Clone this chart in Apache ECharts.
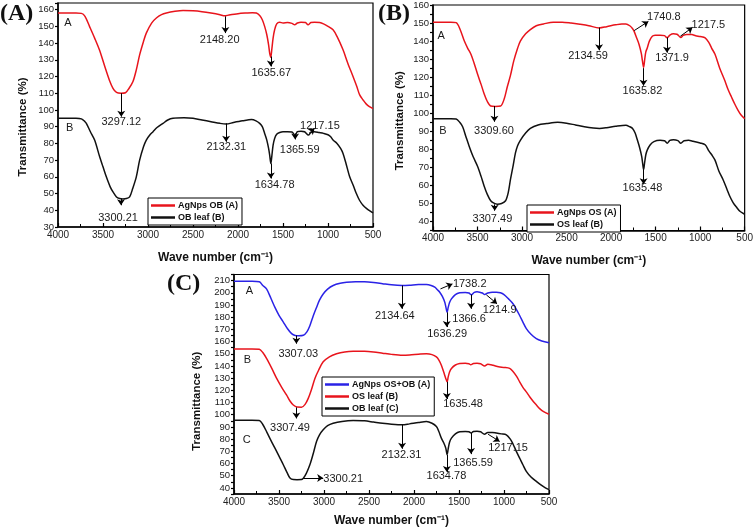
<!DOCTYPE html>
<html><head><meta charset="utf-8">
<script src="https://cdn.jsdelivr.net/npm/echarts@6/dist/echarts.min.js"></script>
<style>html,body{margin:0;padding:0;background:#fff}#c{width:756px;height:528px}</style>
</head><body><div id="c"></div>
<script>
// ---------------- DATA ----------------
// Panel A : AgNps OB (red) and OB leaf (black)
const aAgWn = [4000,3800,3740,3700,3650,3593,3540,3480,3430,3389,3350,3300,3250,3210,3167,3130,3093,3050,3019,2960,2907,2850,2796,2700,2611,2500,2400,2300,2200,2148,2100,2000,1907,1840,1796,1759,1730,1704,1680,1660,1648,1636,1625,1610,1593,1570,1537,1500,1450,1400,1370,1340,1300,1250,1222,1190,1150,1093,1050,1000,944,900,833,780,722,680,648,610,574,540,500];
const aAgT  = [158,158,157.8,156,150,143,136,126,118,113,110.5,110,110.3,113,117,124,133,141,146,152,155,157,158,159,159.5,159.3,158.8,158,157,156.3,156.8,157.6,158,158.2,158,156.5,154,150,145,139,134,131.5,136,143,148,151.5,152.5,152,152.3,151.8,151,152,152.5,152.3,151,152.3,152.5,152.3,151.5,150,148,144,136,128,120,114,109,106,103.5,102,100.8];
const aObWn = [4000,3800,3740,3700,3685,3640,3593,3537,3500,3463,3420,3389,3350,3315,3280,3240,3204,3170,3130,3093,3050,3019,2980,2944,2900,2833,2780,2722,2600,2500,2400,2300,2200,2132,2050,1950,1850,1800,1759,1730,1704,1680,1660,1648,1635,1625,1610,1593,1570,1537,1500,1450,1400,1365,1340,1300,1260,1217,1190,1150,1100,1050,1000,970,944,900,860,833,800,759,720,685,650,611,570,530,500];
const aObT  = [95,95,94.7,93,92,87,82,72,66,60,54,51,48,47,46.8,47,48,53,60,70,78,82,85,87,89.5,92,94,95,95.3,95,94,93,92,91.6,92.5,93.5,94.3,93.5,92,90,86,82,77,73,68,72,79,83,85.5,86.5,87,87,86.8,84.8,87,87.3,87,85,86.5,87,86.5,86,85.2,84,82,80,77,74,68,60,55,50,46,43,41,39.5,38.5];

// Panel B : AgNps OS (red) and OS leaf (black)
const bAgWn = [4000,3800,3740,3700,3648,3610,3574,3540,3500,3460,3426,3390,3352,3300,3241,3200,3167,3130,3093,3050,3019,2960,2907,2840,2759,2650,2550,2450,2350,2250,2134,2050,1950,1880,1833,1790,1760,1741,1715,1685,1660,1648,1635,1622,1610,1593,1570,1537,1500,1450,1400,1372,1340,1300,1260,1217,1190,1150,1093,1050,1000,944,900,870,833,780,722,685,648,610,574,540,500];
const bAgT  = [150.5,150.5,150.2,147,140,136,132.7,128,121.7,116,110.8,106.5,104,103.8,104,108,114.4,121,129,136,140,144,146.4,148.5,149.5,150.5,150.5,150,149.3,148.5,147.3,148,149,149.5,149.5,148.5,147,145.4,142,138,133,129,125.4,130,134,136.3,140,142.7,143.2,143.3,143,141.8,143.3,144,143.8,142,143.2,143.7,143.6,143,142.5,141.8,139,136,132.7,125,118,113,109,105,101.6,99,97];
const bOsWn = [4000,3800,3740,3700,3667,3630,3593,3550,3500,3460,3426,3390,3352,3310,3278,3230,3185,3155,3130,3100,3074,3050,3019,2960,2907,2820,2722,2600,2500,2400,2300,2200,2130,2050,1950,1833,1790,1759,1730,1704,1680,1656,1645,1635,1625,1610,1593,1560,1519,1450,1400,1370,1340,1300,1250,1217,1180,1130,1080,1000,944,900,870,833,790,741,700,667,630,593,550,500];
const bOsT  = [97,97,96.8,95,92.5,87,81.6,76,70.6,65,59.7,55,51.5,50,49.6,50,51.5,56,63.3,71,78,82,85,89,91.6,93.5,94.3,95,94.5,93.5,92.5,91.8,91.6,92,92.8,93.4,92.5,91.6,89,85,81,76,72,68.8,72,77,79.7,82.5,84.3,85,84.8,83.4,85,85.3,84.8,83.4,84.8,85,84.5,83.5,82.5,79,77,74,68,63,58,54,50.5,48,45.5,44];

// Panel C : AgNps OS+OB (blue), OS leaf (red), OB leaf (black)
const cMixWn = [4000,3800,3719,3680,3637,3590,3545,3500,3452,3405,3360,3320,3280,3230,3190,3157,3120,3083,3050,3009,2960,2898,2820,2749,2650,2550,2450,2350,2250,2134,2050,1950,1862,1810,1769,1740,1714,1685,1658,1645,1632,1620,1605,1584,1540,1492,1430,1390,1362,1330,1300,1270,1240,1215,1180,1130,1085,1040,1000,950,900,860,826,790,752,700,641,580,500];
const cMixT  = [209.5,209.5,209,206,203,195.5,188,181.5,176,170.5,166.5,165,164.8,165.2,168,173,181,188,194,199,203,206,207.8,208.6,209,209,208.5,207.5,206.5,206,206.2,206.7,206.7,206,204.6,202.5,200.5,197,192.3,188,184,188,192,195,198.5,200,200.3,199.8,198.3,200.3,200.8,200.5,199.8,198.6,199.8,200.5,200.5,200,198.5,195,191,186,181.4,176,170.6,166,162.4,160.5,159];
const cOsWn = [4000,3800,3719,3680,3637,3580,3526,3470,3415,3380,3341,3300,3250,3210,3175,3140,3101,3060,3009,2940,2861,2770,2676,2550,2450,2350,2250,2130,2050,1950,1862,1800,1751,1725,1696,1670,1647,1632,1620,1605,1584,1540,1492,1430,1390,1370,1340,1300,1260,1215,1180,1121,1060,1000,937,900,860,826,790,750,715,670,640,604,560,500];
const cOsT  = [154,154,153.7,151,146,138,129.8,122.5,116,111.5,108,106.3,106.2,108.5,113.4,120.5,129.8,136.5,143.4,147.5,150,151.5,152,152,151.5,150.5,149.5,148.8,149,149.6,150,149.3,147.4,145,140.6,135,129.8,127,131,135,138,140.8,142,142.3,141.8,141,142,142.2,141.8,140,141.5,140.6,139.3,138.8,138,135.5,131.5,127,122.5,118.5,114.8,110.5,108,105,102.5,100.4];
const cObWn = [4000,3800,3719,3680,3637,3590,3545,3500,3452,3410,3378,3340,3300,3250,3210,3157,3120,3083,3050,3009,2960,2898,2800,2676,2550,2450,2350,2250,2130,2050,1950,1862,1800,1751,1725,1696,1670,1647,1632,1620,1605,1584,1540,1492,1430,1390,1365,1340,1300,1260,1217,1180,1130,1085,1030,974,930,900,863,820,790,752,700,641,590,540,500];
const cObT  = [95.5,95.5,95.3,92,86,79,72.6,66,59,52.5,48.1,46.8,46.7,46.8,50,59,68,78,83.5,87.6,91,93,94.5,95.2,95,94,93,92.2,91.7,92.5,93.6,94.4,93,90.3,86.5,80.8,77,72.6,67.2,72,77.5,80.8,84.3,86,86.3,86,85,86.3,86.5,86,84,85.5,85.5,85,84.3,83.5,80,76,70,63.5,59,53.6,49,45.4,42.5,40,38.6];

// Series names
const namesA = ['AgNps OB (A)', 'OB leaf (B)'];
const namesB = ['AgNps OS (A)', 'OS leaf (B)'];
const namesC = ['AgNps OS+OB (A)', 'OS leaf (B) ', 'OB leaf (C)'];

// Axis ranges [min, max]
const xRange = [500, 4000];
const yRangeA = [30, 164];
const yRangeB = [35, 160];
const yRangeC = [35, 215];

// Annotations: arrows [x1,y1,x2,y2], labels [text,x,y]  (data units)
const arrowsA = [[3297,110,3297,96],[2140,156,2140,146],[1635,132,1635,126],[3300,47,3300,43],[2132,92,2132,81],[1635,68,1635,59],[1365,86,1365,82.4],[1211,86,1148,89]];
const labelsA = [['3297.12',3296,93],['2148.20',2204,142],['1635.67',1630,122.4],['3300.21',3333,35.5],['2132.31',2130,77.6],['1634.78',1593,55.4],['1365.59',1315,76],['1217.15',1090,90.6],['A',3889,152],['B',3870,89]];
const arrowsB = [[3310,104,3310,95.3],[2135,147.5,2135,134.9],[1741,145.8,1581,150.9],[1636,125,1636,115.3],[1372,142,1372,133.6],[1222,142.7,1085,147.6],[3307,49.5,3307,46],[1635,68.8,1635,60.6]];
const labelsB = [['3309.60',3315,90.3],['2134.59',2259,131.8],['1740.8',1407,153.6],['1635.82',1648,112.2],['1371.9',1315,130.8],['1217.5',907,149.1],['3307.49',3333,41.3],['1635.48',1648,58.8],['A',3907,143],['B',3889,90]];
const arrowsC = [[3307,165,3307,158.3],[2135,206,2135,186.9],[1706,203.2,1573,207.3],[1636,184,1636,171.9],[1366,198.5,1366,186.9],[1196,198.3,1077,191],[3307,106,3307,97],[1635,127,1635,112.9],[3230,48.1,3009,48.1],[2132,91.7,2132,72.1],[1635,67,1635,53],[1366,85,1366,67.7],[1177,84,1048,78.1]];
const labelsC = [['3307.03',3286,150.2],['2134.64',2213,181.4],['1738.2',1381,207.3],['1636.29',1632,166.5],['1366.6',1388,178.2],['1214.9',1048,186.3],['3307.49',3378,89.5],['1635.48',1455,108.5],['3300.21',2787,47.3],['2132.31',2139,66.6],['1634.78',1640,49.5],['1365.59',1344,60.4],['1217.15',955,72.6],['A',3830,201.8],['B',3852,145.3],['C',3859,79.4]];

// ---------------- CHART ----------------
const FONT = '"Liberation Sans", Arial, sans-serif';
const RED = '#e8141c', BLACK = '#111111', BLUE = '#2a22e6';
const zip = (xs, ys) => xs.map((x, i) => [x, ys[i]]);
const tickFmt = v => (v % 10 === 0 ? String(v) : '');

const grids = [
  {left: 58, top: 3, width: 315, height: 224},
  {left: 433, top: 3.5, width: 315, height: 227},
  {left: 234, top: 274.5, width: 315, height: 220}
];

function xAx(i, gap) {
  return {gridIndex: i, type: 'value', inverse: true, min: xRange[0], max: xRange[1], interval: 500,
    axisLine: {show: true, onZero: false, lineStyle: {color: '#000', width: 1.5}},
    axisTick: {show: true, inside: true, length: 4, lineStyle: {color: '#000', width: 1.2}},
    minorTick: {show: true, splitNumber: 2, length: 3, lineStyle: {color: '#000', width: 1}},
    axisLabel: {fontFamily: FONT, fontSize: 10, color: '#222', margin: 3, formatter: v => String(v)},
    splitLine: {show: false},
    name: 'Wave number (cm\u207B\u00B9)', nameLocation: 'middle', nameGap: gap,
    nameTextStyle: {fontFamily: FONT, fontWeight: 'bold', fontSize: 12, color: '#111'}};
}
function yAx(i, rng, interval, gap, shift) {
  return {gridIndex: i, type: 'value', min: rng[0], max: rng[1], interval: interval,
    axisLine: {show: true, onZero: false, lineStyle: {color: '#000', width: 1.5}},
    axisTick: {show: true, inside: false, length: 3, lineStyle: {color: '#000', width: 1.2}},
    axisLabel: {fontFamily: FONT, fontSize: 9.5, color: '#222', margin: 4, formatter: tickFmt},
    splitLine: {show: false},
    name: 'Transmittance (%)', nameLocation: 'middle', nameGap: gap,
    nameTextStyle: {fontFamily: FONT, fontWeight: 'bold', fontSize: 11.5, color: '#111', padding: [0, shift, 0, 0]}};
}
function annot(arrows, labels) {
  return {
    markLine: {silent: true, animation: false, symbol: ['none', 'arrow'], symbolSize: 6,
      lineStyle: {color: '#000', width: 1, type: 'solid'}, label: {show: false},
      emphasis: {disabled: true},
      data: arrows.map(a => [{coord: [a[0], a[1]]}, {coord: [a[2], a[3]]}])},
    markPoint: {silent: true, animation: false, symbol: 'rect', symbolSize: 1,
      itemStyle: {color: 'rgba(0,0,0,0)'},
      label: {show: true, position: 'inside', formatter: p => p.name, color: '#1a1a1a', fontSize: 11, fontFamily: FONT},
      data: labels.map(l => ({name: l[0], coord: [l[1], l[2]]}))}
  };
}
function line(name, color, xi, data, extra) {
  return Object.assign({name: name, type: 'line', xAxisIndex: xi, yAxisIndex: xi, data: data,
    showSymbol: false, smooth: 0.3, lineStyle: {color: color, width: 1.5}, itemStyle: {color: color},
    emphasis: {disabled: true}}, extra || {});
}
function legend(names, left, top) {
  return {data: names, left: left, top: top, orient: 'vertical', icon: 'rect', itemWidth: 24, itemHeight: 2.5,
    itemGap: 3, padding: [3, 4, 3, 3], borderColor: '#000', borderWidth: 1, backgroundColor: '#fff',
    selectedMode: false,
    textStyle: {fontFamily: FONT, fontSize: 9, fontWeight: 'bold', color: '#111', padding: [0, 0, 0, -2]}};
}

const chart = echarts.init(document.getElementById('c'), null, {renderer: 'canvas'});
chart.setOption({
  animation: false,
  backgroundColor: '#fff',
  title: [
    {text: '(A)', left: 0, top: 2, padding: 0, textStyle: {fontFamily: '"Liberation Serif", serif', fontWeight: 'bold', fontSize: 24, color: '#111'}},
    {text: '(B)', left: 378, top: 2, padding: 0, textStyle: {fontFamily: '"Liberation Serif", serif', fontWeight: 'bold', fontSize: 24, color: '#111'}},
    {text: '(C)', left: 167, top: 272, padding: 0, textStyle: {fontFamily: '"Liberation Serif", serif', fontWeight: 'bold', fontSize: 24, color: '#111'}}
  ],
  grid: grids.map(g => Object.assign({show: true, borderColor: '#000', borderWidth: 1.2, backgroundColor: '#fff'}, g)),
  xAxis: [xAx(0, 25), xAx(1, 24), xAx(2, 21)],
  yAxis: [yAx(0, yRangeA, 10, 29, 24), yAx(1, yRangeB, 5, 27, 6), yAx(2, yRangeC, 5, 31, 34)],
  legend: [legend(namesA, 148, 198), legend(namesB, 527, 205), legend(namesC, 322, 377)],
  series: [
    line(namesA[0], RED, 0, zip(aAgWn, aAgT), annot(arrowsA, labelsA)),
    line(namesA[1], BLACK, 0, zip(aObWn, aObT)),
    line(namesB[0], RED, 1, zip(bAgWn, bAgT), annot(arrowsB, labelsB)),
    line(namesB[1], BLACK, 1, zip(bOsWn, bOsT)),
    line(namesC[0], BLUE, 2, zip(cMixWn, cMixT), annot(arrowsC, labelsC)),
    line(namesC[1], RED, 2, zip(cOsWn, cOsT)),
    line(namesC[2], BLACK, 2, zip(cObWn, cObT))
  ]
});
</script></body></html>
